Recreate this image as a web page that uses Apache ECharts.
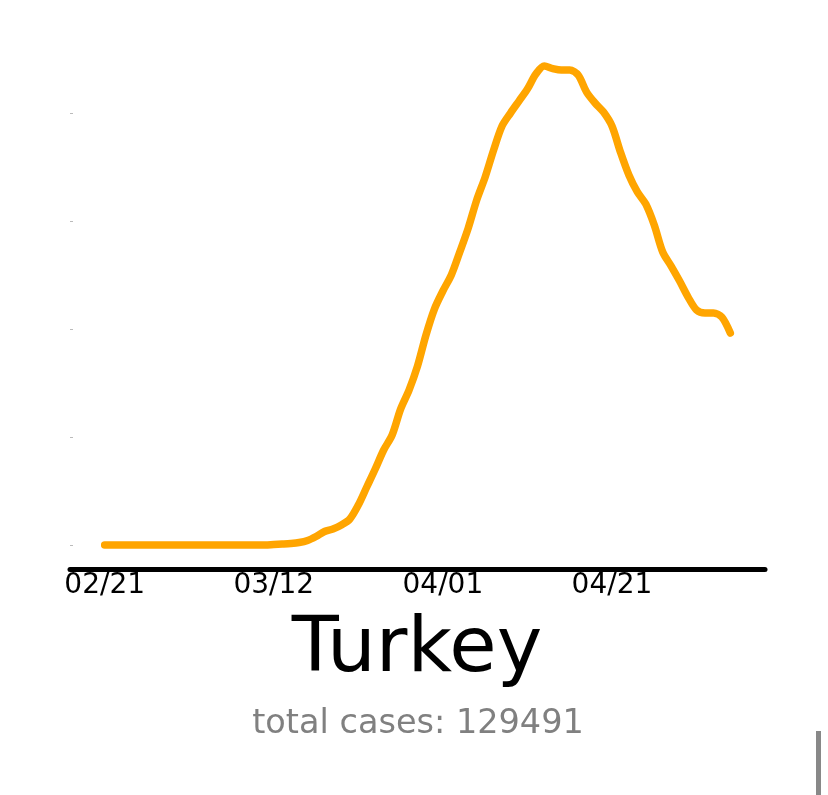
<!DOCTYPE html>
<html>
<head>
<meta charset="utf-8">
<script src="https://cdn.jsdelivr.net/npm/echarts@6/dist/echarts.min.js"></script>
<style>
html,body{margin:0;padding:0;background:#fff;}
#chart{width:828px;height:795px;}
</style>
</head>
<body>
<div id="chart"></div>
<script>
// Day offsets from 02/21 and tick labels
var tickDays = [0, 20, 40, 60];
var tickLabels = ['02/21', '03/12', '04/01', '04/21'];
var yTicks = [0, 1000, 2000, 3000, 4000];
// Daily new cases (smoothed), one value per day starting 02/21
var dailyCases = [
  0, 0, 0, 0, 0, 0, 0, 0, 0, 0,
  0, 0, 0, 0, 0, 0, 0, 0, 0, 0,
  5, 9, 14, 23, 42, 79, 125, 148, 185, 241,
  370, 537, 704, 880, 1019, 1259, 1435, 1657, 1944, 2185,
  2352, 2500, 2713, 2935, 3194, 3407, 3657, 3880, 4000, 4111,
  4222, 4361, 4435, 4412, 4398, 4398, 4352, 4194, 4093, 4009,
  3880, 3639, 3426, 3269, 3157, 2963, 2713, 2583, 2444, 2296,
  2176, 2148, 2148, 2110, 1963
];
var country = 'Turkey';
var totalCases = 129491;

var seriesData = dailyCases.map(function (v, i) { return [i, v]; });

var chart = echarts.init(document.getElementById('chart'));
chart.setOption({
  backgroundColor: '#ffffff',
  animation: false,
  grid: { left: 70, right: 63, top: 41, bottom: 226, containLabel: false },
  xAxis: {
    type: 'value',
    min: -4.1,
    max: 78.1,
    axisLine: { show: true, onZero: false, lineStyle: { color: '#000', width: 5 } },
    axisTick: { show: false },
    splitLine: { show: false },
    axisLabel: {
      customValues: tickDays,
      color: '#000',
      fontFamily: 'DejaVu Sans',
      fontSize: 28,
      margin: 3,
      formatter: function (v) {
        var k = tickDays.indexOf(Math.round(v));
        return k >= 0 ? tickLabels[k] : '';
      }
    }
  },
  yAxis: {
    type: 'value',
    min: -222,
    max: 4667,
    axisLine: { show: false, onZero: false },
    splitLine: { show: false },
    axisLabel: { show: false },
    axisTick: {
      show: true,
      inside: true,
      length: 3,
      customValues: yTicks,
      lineStyle: { color: '#bbbbbb', width: 1 }
    }
  },
  series: [{
    type: 'line',
    data: seriesData,
    showSymbol: false,
    smooth: 0.3,
    lineStyle: { color: '#FFA500', width: 7.5, cap: 'round', join: 'round' },
    itemStyle: { color: '#FFA500' }
  }],
  graphic: [
    {
      type: 'text',
      x: 417,
      y: 612,
      style: {
        text: country,
        align: 'center',
        verticalAlign: 'top',
        fontFamily: 'DejaVu Sans',
        fontSize: 77,
        fill: '#000'
      }
    },
    {
      type: 'text',
      x: 418,
      y: 707,
      style: {
        text: 'total cases: ' + totalCases,
        align: 'center',
        verticalAlign: 'top',
        fontFamily: 'DejaVu Sans',
        fontSize: 33.5,
        fill: '#808080'
      }
    },
    {
      type: 'rect',
      shape: { x: 816, y: 731, width: 5, height: 64 },
      style: { fill: '#888888' }
    }
  ]
});
</script>
</body>
</html>
